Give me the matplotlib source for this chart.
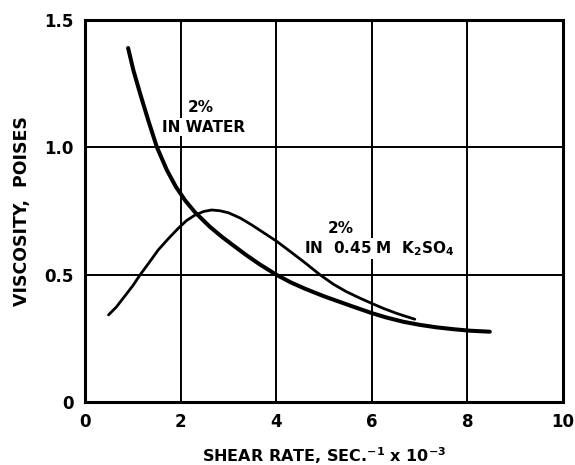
import numpy as np
import matplotlib.pyplot as plt

# 2% in water
water_x = [0.90, 1.01, 1.15, 1.32, 1.50, 1.71, 1.90, 2.10, 2.30, 2.60, 2.86, 3.10, 3.35, 3.65,
           4.0, 4.3, 4.6, 5.0, 5.3, 5.6, 6.0, 6.3, 6.66, 7.0, 7.36, 7.7, 8.05, 8.47]
water_y = [1.39, 1.303, 1.212, 1.107, 1.002, 0.911, 0.845, 0.79, 0.745, 0.69, 0.649, 0.615, 0.580,
           0.541, 0.500, 0.470, 0.445, 0.415, 0.395, 0.375, 0.349, 0.332, 0.315, 0.303, 0.293,
           0.286, 0.280, 0.276]

# 2% in 0.45 M K2SO4
salt_x = [0.49, 0.65, 0.84, 1.0, 1.15, 1.35, 1.53, 1.75, 1.95, 2.12, 2.30, 2.48, 2.65, 2.82, 3.0,
          3.25, 3.49, 3.75, 4.01, 4.3, 4.6, 4.92, 5.2, 5.47, 5.75, 6.0, 6.25, 6.52, 6.7, 6.9]
salt_y = [0.342, 0.372, 0.418, 0.457, 0.499, 0.55, 0.597, 0.643, 0.682, 0.712, 0.734, 0.748, 0.754,
          0.751, 0.743, 0.722, 0.695, 0.663, 0.631, 0.590, 0.547, 0.499, 0.462, 0.433, 0.408,
          0.387, 0.367, 0.348, 0.337, 0.325]

xticks = [0, 2, 4, 6, 8, 10]
yticks = [0, 0.5, 1.0, 1.5]
yticklabels = ["0", "0.5", "1.0", "1.5"]

plt.rcParams['font.family'] = ['DejaVu Sans']
plt.rcParams['font.weight'] = 'bold'
plt.rcParams['mathtext.default'] = 'bf'

fig = plt.figure(figsize=(5.75, 4.65), dpi=100)
ax = fig.add_axes([0.148, 0.1355, 0.831, 0.8215])

ax.plot(water_x, water_y, color='black', lw=2.9, solid_capstyle='round', solid_joinstyle='round', zorder=4)
ax.plot(salt_x, salt_y, color='black', lw=2.0, solid_capstyle='round', solid_joinstyle='round', zorder=4)

ax.set_xlim(0, 10)
ax.set_ylim(0, 1.5)
ax.set_xticks(xticks)
ax.set_yticks(yticks)
ax.set_yticklabels(yticklabels)
ax.tick_params(length=0, labelsize=12, pad=8)
for lab in ax.get_xticklabels() + ax.get_yticklabels():
    lab.set_fontweight('bold')
ax.grid(True, color='black', lw=1.4)
for s in ax.spines.values():
    s.set_linewidth(2.2)
    s.set_zorder(5)

ax.set_xlabel("SHEAR RATE, SEC.$^{-1}$ x 10$^{-3}$", fontsize=11.5, fontweight='bold', labelpad=10)
ax.set_ylabel("VISCOSITY,  POISES", fontsize=12.5, fontweight='bold', labelpad=10)

box = dict(facecolor='white', edgecolor='none', pad=1)
ax.text(2.43, 1.139, "2%", fontsize=11, fontweight='bold', ha='center', va='baseline', bbox=box, zorder=3)
ax.text(2.47, 1.061, "IN WATER", fontsize=11, fontweight='bold', ha='center', va='baseline', bbox=box, zorder=3)
ax.text(5.36, 0.663, "2%", fontsize=11, fontweight='bold', ha='center', va='baseline', bbox=box, zorder=3)
ax.text(6.15, 0.585, "IN  0.45 M  K$_2$SO$_4$", fontsize=11, fontweight='bold', ha='center', va='baseline',
        bbox=box, zorder=3)

fig.savefig("out.png", dpi=100)
